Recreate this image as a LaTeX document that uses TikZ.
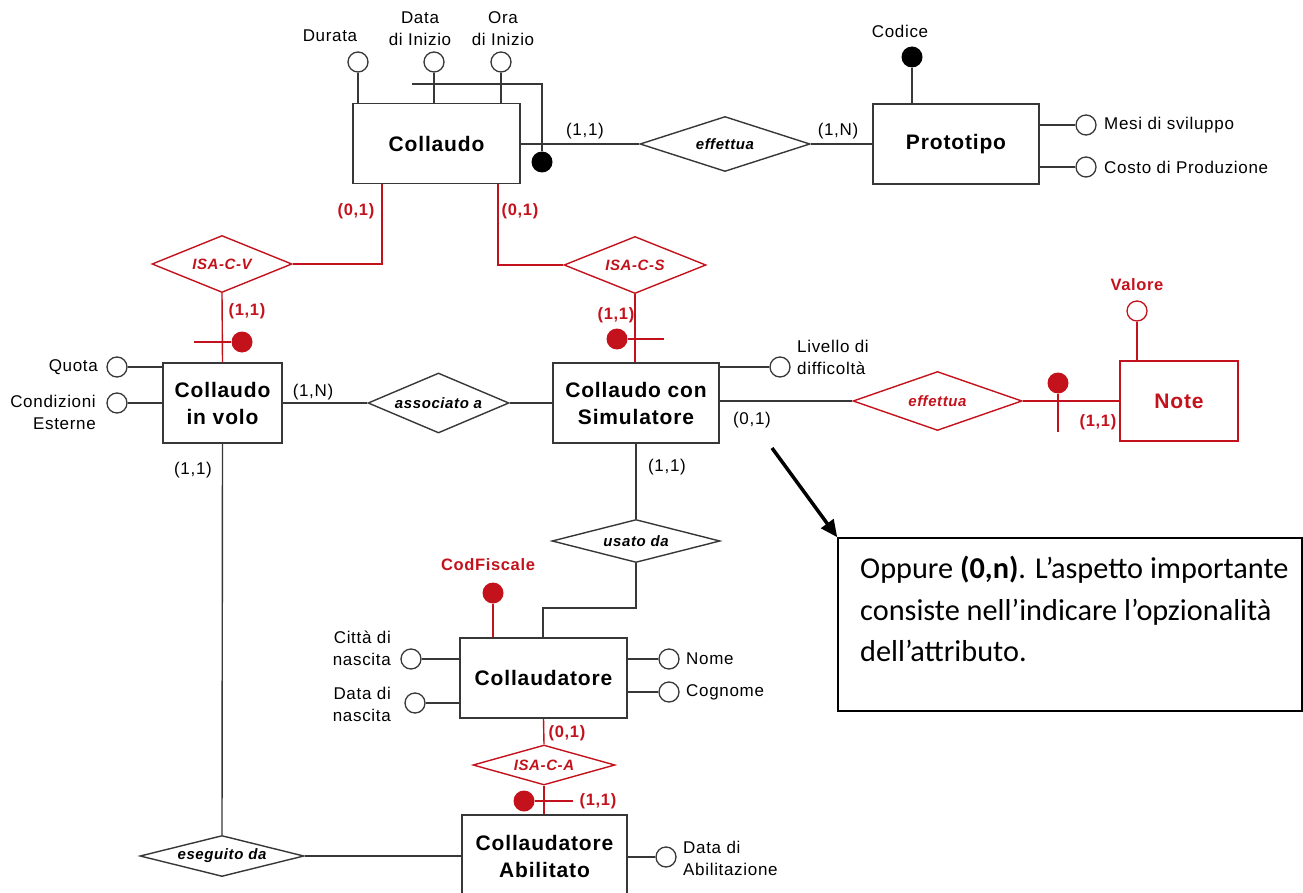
\documentclass[tikz,border=0pt]{standalone}
\usepackage{fontspec}
\setmainfont{Liberation Sans}
\newfontfamily\lf[LetterSpace=4]{Liberation Sans}
\newfontfamily\cf{Carlito}
\usetikzlibrary{shapes.geometric,arrows.meta}
\definecolor{erred}{RGB}{196,18,28}
\definecolor{ln}{RGB}{55,55,55}
\begin{document}
\begin{tikzpicture}[x=1pt,y=-1pt,
 ent/.style={draw=ln, line width=1.4pt, inner sep=0pt, align=center, font=\lf\bfseries\fontsize{21}{27}\selectfont, text=black},
 rent/.style={ent, draw=erred, text=erred},
 rel/.style={diamond, draw=ln, line width=1.4pt, inner sep=0pt},
 rrel/.style={rel, draw=erred},
 rtxt/.style={font=\lf\bfseries\itshape\fontsize{15}{18}\selectfont, inner sep=0pt},
 attr/.style={circle, draw=ln, line width=1.3pt, fill=white, minimum size=20pt, inner sep=0pt},
 rattr/.style={attr, draw=erred},
 keyd/.style={circle, fill=black, minimum size=21pt, inner sep=0pt},
 rkeyd/.style={keyd, fill=erred},
 lab/.style={font=\lf\fontsize{17}{22}\selectfont, inner sep=0pt},
 rlab/.style={font=\lf\bfseries\fontsize{16.5}{20}\selectfont, text=erred, inner sep=0pt},
 conn/.style={draw=ln, line width=1.4pt},
 rconn/.style={draw=erred, line width=1.4pt},
]
\clip (0,0) rectangle (1303,893);
\fill[white] (0,0) rectangle (1303,893);

% ---------- entities ----------
\node[ent, minimum width=167pt, minimum height=80pt] (collaudo) at (436.5,143.5) {Collaudo};
\node[ent, minimum width=166pt, minimum height=80pt] (proto) at (956,144) {Prototipo};
\node[ent, minimum width=119pt, minimum height=80pt] (cvolo) at (222.5,403) {Collaudo\\in volo};
\node[ent, minimum width=166pt, minimum height=80pt] (ccs) at (636,403) {Collaudo con\\Simulatore};
\node[rent, minimum width=118pt, minimum height=80pt] (note) at (1179,401) {Note};
\node[ent, minimum width=167pt, minimum height=80pt] (coll) at (543.5,678) {Collaudatore};
\node[ent, minimum width=165pt, minimum height=82pt] (cab) at (544.5,856) {Collaudatore\\Abilitato};

% ---------- relationships ----------
\node[rel, minimum width=170pt, minimum height=55pt] (eff1) at (725,144) {};
\node[rtxt] at (eff1) {effettua};
\node[rrel, minimum width=140pt, minimum height=57pt] (isacv) at (222,264) {};
\node[rtxt, text=erred] at (isacv) {ISA-C-V};
\node[rrel, minimum width=142pt, minimum height=57pt] (isacs) at (635,265) {};
\node[rtxt, text=erred] at (isacs) {ISA-C-S};
\node[rel, minimum width=141pt, minimum height=60pt] (assoc) at (438.5,403) {};
\node[rtxt] at (assoc) {associato a};
\node[rrel, minimum width=169pt, minimum height=59pt] (eff2) at (937.5,401) {};
\node[rtxt, text=erred] at (eff2) {effettua};
\node[rel, minimum width=168pt, minimum height=43pt] (usato) at (636,541) {};
\node[rtxt] at (usato) {usato da};
\node[rrel, minimum width=142pt, minimum height=40pt] (isaca) at (544,765) {};
\node[rtxt, text=erred] at (isaca) {ISA-C-A};
\node[rel, minimum width=164pt, minimum height=41pt] (esd) at (222,856) {};
\node[rtxt] at (esd) {eseguito da};

% ---------- attributes of Collaudo ----------
\node[attr] (adur) at (358,62) {};
\node[attr] (adi) at (434,62) {};
\node[attr] (aora) at (501,62) {};
\draw[conn] (adur) -- (adur |- collaudo.north);
\draw[conn] (adi) -- (adi |- collaudo.north);
\draw[conn] (aora) -- (aora |- collaudo.north);
\node[keyd] (kcoll) at (542,162) {};
\coordinate (cid) at (412,84);
\draw[conn] (cid) -- (kcoll |- cid) -- (kcoll);
\node[lab] (tdur) at (330,36) {Durata};
\node[lab, align=center] (tdi) at (420,29) {Data\\di Inizio};
\node[lab, align=center] (tora) at (503,29) {Ora\\di Inizio};

% ---------- Collaudo - effettua - Prototipo ----------
\draw[conn] (collaudo.east |- eff1) -- (eff1.west);
\draw[conn] (eff1.east) -- (proto.west);
\node[lab] (c11a) at (585,131) {(1,1)};
\node[lab] (c1na) at (838,131) {(1,N)};

% ---------- Prototipo attributes ----------
\node[keyd] (kcod) at (912,57) {};
\draw[conn] (kcod) -- (kcod |- proto.north);
\node[lab] (tcod) at (900,31) {Codice};
\node[attr] (amesi) at (1086,125) {};
\node[attr] (acosto) at (1086,167) {};
\draw[conn] (proto.east |- amesi) -- (amesi);
\draw[conn] (proto.east |- acosto) -- (acosto);
\node[lab, anchor=west] (tmesi) at (1104,125) {Mesi di sviluppo};
\node[lab, anchor=west] (tcosto) at (1104,167) {Costo di Produzione};

% ---------- ISA Collaudo ----------
\coordinate (cl) at (382,0);
\coordinate (cr) at (498,0);
\draw[rconn] (collaudo.south -| cl) -- (cl |- isacv) -- (isacv.east);
\draw[rconn] (collaudo.south -| cr) -- (cr |- isacs) -- (isacs.west);
\node[rlab] (c01a) at (356,211) {(0,1)};
\node[rlab] (c01b) at (520,211) {(0,1)};

\draw[rconn] (isacv.south) -- (cvolo.north);
\node[rlab] (c11v) at (247,311) {(1,1)};
\node[rkeyd] (kv) at (242,342) {};
\coordinate (tv) at (194,342);
\draw[rconn] (tv) -- (kv);

\draw[rconn] (isacs.south) -- (isacs.south |- ccs.north);
\node[rlab] (c11s) at (616,315) {(1,1)};
\node[rkeyd] (ks) at (617,339) {};
\coordinate (ts) at (664,339);
\draw[rconn] (ks) -- (ts);

% ---------- Collaudo in volo attributes ----------
\node[attr] (aq) at (117,367) {};
\node[attr] (acond) at (117,403) {};
\draw[conn] (aq) -- (aq -| cvolo.west);
\draw[conn] (acond) -- (acond -| cvolo.west);
\node[lab, anchor=east] (tq) at (98,367) {Quota};
\node[lab, anchor=east, align=right] (tcond) at (96,412) {Condizioni\\Esterne};

% ---------- associato a ----------
\draw[conn] (cvolo.east) -- (assoc.west);
\draw[conn] (assoc.east) -- (ccs.west);
\node[lab] (c1nb) at (313,392) {(1,N)};

% ---------- Collaudo con Simulatore ----------
\node[attr] (aliv) at (780,367) {};
\draw[conn] (ccs.east |- aliv) -- (aliv);
\node[lab, anchor=west, align=left] (tliv) at (797,357) {Livello di\\difficoltà};
\draw[conn] (ccs.east |- eff2) -- (eff2.west);
\node[lab] (c01c) at (752,420) {(0,1)};

% ---------- Note ----------
\draw[rconn] (eff2.east) -- (note.west);
\node[rkeyd] (kn) at (1058,383) {};
\coordinate (tn) at (1058,432);
\draw[rconn] (kn) -- (tn);
\node[rlab] (c11n) at (1098,422) {(1,1)};
\node[rattr] (aval) at (1137,311) {};
\draw[rconn] (aval) -- (aval |- note.north);
\node[rlab] (tval) at (1137,285) {Valore};

% ---------- usato da ----------
\draw[conn] (ccs.south) -- (usato.north);
\node[lab] (c11u) at (667,467) {(1,1)};
\coordinate (bend) at (543,608);
\draw[conn] (usato.south) |- (bend) -- (bend |- coll.north);

% ---------- Collaudatore ----------
\node[rkeyd] (kcf) at (493,593) {};
\draw[rconn] (kcf) -- (kcf |- coll.north);
\node[rlab] (tcf) at (488,565) {CodFiscale};
\node[attr] (acit) at (411,659) {};
\node[attr] (adn) at (415,703) {};
\draw[conn] (acit) -- (acit -| coll.west);
\draw[conn] (adn) -- (adn -| coll.west);
\node[lab, anchor=east, align=right] (tcit) at (391,648) {Città di\\nascita};
\node[lab, anchor=east, align=right] (tdn) at (391,704) {Data di\\nascita};
\node[attr] (anome) at (669,659) {};
\node[attr] (acog) at (669,692) {};
\draw[conn] (coll.east |- anome) -- (anome);
\draw[conn] (coll.east |- acog) -- (acog);
\node[lab, anchor=west] (tnome) at (686,659) {Nome};
\node[lab, anchor=west] (tcog) at (686,692) {Cognome};

% ---------- ISA-C-A ----------
\draw[rconn] (coll.south) -- (isaca.north);
\node[rlab] (c01d) at (567,733) {(0,1)};
\draw[rconn] (isaca.south) -- (isaca.south |- cab.north);
\node[rkeyd] (ka) at (524,801) {};
\coordinate (ta) at (573,801);
\draw[rconn] (ka) -- (ta);
\node[rlab] (c11a2) at (598,801) {(1,1)};

% ---------- Collaudatore Abilitato ----------
\node[attr] (adab) at (666,857) {};
\draw[conn] (cab.east |- adab) -- (adab);
\node[lab, anchor=west, align=left] (tdab) at (683,858) {Data di\\Abilitazione};

% ---------- eseguito da ----------
\draw[conn] (cvolo.south) -- (esd.north);
\node[lab] (c11e) at (193,470) {(1,1)};
\draw[conn] (esd.east) -- (cab.west);

% ---------- note box ----------
\node[draw=black, line width=1.5pt, minimum width=464pt, minimum height=173pt, inner sep=0pt] (tb) at (1070,624.5) {};
\node[anchor=north west, align=left, font=\cf\fontsize{30.3}{41.5}\selectfont, inner sep=0pt] (tbt) at (860,556) {Oppure \textbf{(0,n)}. L’aspetto importante\\consiste nell’indicare l’opzionalità\\dell’attributo.};
\coordinate (arrS) at (772,448);
\draw[line width=3.5pt, -{Triangle[length=17pt,width=15pt]}] (arrS) -- (tb.north west);
\end{tikzpicture}
\end{document}
